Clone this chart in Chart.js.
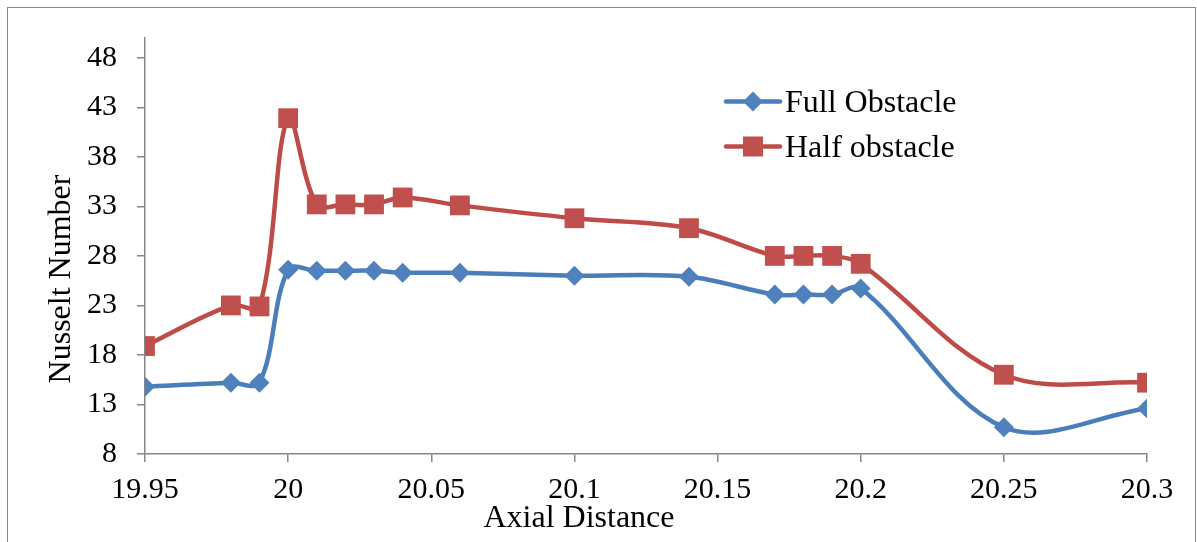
<!DOCTYPE html>
<html>
<head>
<meta charset="utf-8">
<script src="https://cdn.jsdelivr.net/npm/chart.js@4/dist/chart.umd.min.js"></script>
<style>
  html, body { margin: 0; padding: 0; background: #ffffff; }
  #wrap { position: relative; width: 1197px; height: 542px; }
</style>
</head>
<body>
<div id="wrap"><canvas id="chart" width="1197" height="542"></canvas></div>
<script>
// Axial positions and Nusselt numbers for the two obstacle configurations
const axialDistance = [19.95, 19.98, 19.99, 20.00, 20.01, 20.02, 20.03, 20.04, 20.06, 20.10, 20.14, 20.17, 20.18, 20.19, 20.20, 20.25, 20.30];
const fullObstacle  = [14.8, 15.2, 15.2, 26.6, 26.5, 26.5, 26.5, 26.3, 26.3, 26.0, 25.9, 24.1, 24.1, 24.1, 24.7, 10.7, 12.6];
const halfObstacle  = [18.9, 23.0, 22.9, 41.9, 33.2, 33.2, 33.2, 33.9, 33.1, 31.8, 30.8, 28.0, 28.0, 28.0, 27.2, 16.0, 15.2];

const seriesNames = ['Full Obstacle', 'Half obstacle'];

const xTicks = [19.95, 20.00, 20.05, 20.10, 20.15, 20.20, 20.25, 20.30];
const xTickLabels = ['19.95', '20', '20.05', '20.1', '20.15', '20.2', '20.25', '20.3'];
const yTicks = [8, 13, 18, 23, 28, 33, 38, 43, 48];

const xTitle = 'Axial Distance';
const yTitle = 'Nusselt Number';

const FONT = '"Liberation Serif", "Times New Roman", serif';
const AXIS_COLOR = '#868686';
const BLUE_LINE = '#4A7EBB', BLUE_MARK = '#4F81BD';
const RED_LINE = '#BE4B48', RED_MARK = '#C0504D';

const toPoints = (ys) => axialDistance.map((x, i) => ({ x: x, y: ys[i] }));

// Marker shapes shared by the plot and the legend
function drawMarker(ctx, style, x, y, color) {
  ctx.save();
  ctx.fillStyle = color;
  ctx.beginPath();
  if (style === 'rectRot') {
    const r = 10;
    ctx.moveTo(x, y - r); ctx.lineTo(x + r, y); ctx.lineTo(x, y + r); ctx.lineTo(x - r, y);
  } else {
    const h = 10;
    ctx.rect(x - h, y - h, 2 * h, 2 * h);
  }
  ctx.closePath();
  ctx.fill();
  ctx.restore();
}

// Frame, axis titles and the in-plot legend
const decorations = {
  id: 'decorations',
  afterDraw(chart) {
    const ctx = chart.ctx;
    ctx.save();
    ctx.strokeStyle = AXIS_COLOR;
    ctx.lineWidth = 1;
    ctx.strokeRect(7.5, 7.5, 1188, 546);

    ctx.fillStyle = '#000000';
    ctx.font = '32px ' + FONT;
    ctx.textAlign = 'center';
    ctx.textBaseline = 'alphabetic';
    ctx.fillText(xTitle, 579, 527);

    ctx.save();
    ctx.translate(70, 279);
    ctx.rotate(-Math.PI / 2);
    ctx.fillText(yTitle, 0, 0);
    ctx.restore();

    const rows = [101.5, 146.5];
    chart.data.datasets.forEach((ds, i) => {
      const y = rows[i];
      ctx.strokeStyle = ds.borderColor;
      ctx.lineWidth = 4.5;
      ctx.lineCap = 'round';
      ctx.beginPath();
      ctx.moveTo(726, y);
      ctx.lineTo(780, y);
      ctx.stroke();
      drawMarker(ctx, ds.pointStyle, 753, y, ds.pointBackgroundColor);
      ctx.fillStyle = '#000000';
      ctx.textAlign = 'left';
      ctx.textBaseline = 'alphabetic';
      ctx.fillText(ds.label, 785, y + 10.5);
    });
    ctx.restore();
  }
};

new Chart(document.getElementById('chart'), {
  type: 'line',
  data: {
    datasets: [
      {
        label: seriesNames[0],
        data: toPoints(fullObstacle),
        borderColor: BLUE_LINE,
        borderWidth: 4.5,
        pointStyle: 'rectRot',
        pointRadius: 10,
        pointHoverRadius: 10,
        pointBackgroundColor: BLUE_MARK,
        pointBorderColor: BLUE_MARK,
        pointBorderWidth: 0,
        tension: 0.35,
        fill: false
      },
      {
        label: seriesNames[1],
        data: toPoints(halfObstacle),
        borderColor: RED_LINE,
        borderWidth: 4.5,
        pointStyle: 'rect',
        pointRadius: 14,
        pointHoverRadius: 14,
        pointBackgroundColor: RED_MARK,
        pointBorderColor: RED_MARK,
        pointBorderWidth: 0,
        tension: 0.35,
        fill: false
      }
    ]
  },
  options: {
    responsive: false,
    animation: false,
    events: [],
    layout: { padding: { top: 35, right: 50, left: 0, bottom: 0 } },
    plugins: {
      legend: { display: false },
      tooltip: { enabled: false },
      title: { display: false }
    },
    scales: {
      x: {
        type: 'linear',
        min: 19.95,
        max: 20.3,
        afterBuildTicks: (axis) => { axis.ticks = xTicks.map(v => ({ value: v })); },
        afterFit: (axis) => { axis.height = 88; },
        ticks: {
          autoSkip: false,
          maxRotation: 0,
          padding: 10,
          color: '#000000',
          font: { family: FONT, size: 30 },
          callback: (value, index) => xTickLabels[index]
        },
        grid: { drawOnChartArea: false, drawTicks: true, tickLength: 8, color: AXIS_COLOR, lineWidth: 1.5 },
        border: { color: AXIS_COLOR, width: 1.5 }
      },
      y: {
        type: 'linear',
        min: 8,
        max: 50,
        afterBuildTicks: (axis) => { axis.ticks = yTicks.map(v => ({ value: v })); },
        afterFit: (axis) => { axis.width = 145; },
        ticks: {
          autoSkip: false,
          padding: 20,
          color: '#000000',
          font: { family: FONT, size: 30 },
          callback: (value) => String(value)
        },
        grid: { drawOnChartArea: false, drawTicks: true, tickLength: 8, color: AXIS_COLOR, lineWidth: 1.5 },
        border: { color: AXIS_COLOR, width: 1.5 }
      }
    }
  },
  plugins: [decorations]
});
</script>
</body>
</html>
